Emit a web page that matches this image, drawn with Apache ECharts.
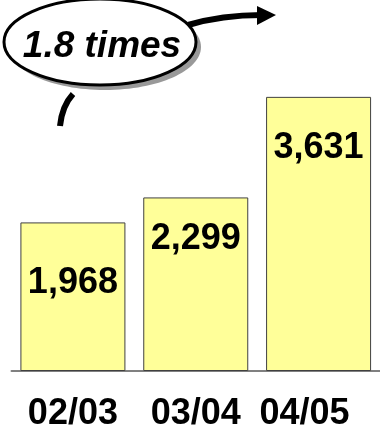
<!DOCTYPE html>
<html>
<head>
<meta charset="utf-8">
<script src="https://cdn.jsdelivr.net/npm/echarts@6/dist/echarts.min.js"></script>
<style>html,body{margin:0;padding:0;background:#fff;}#c{width:380px;height:432px;}</style>
</head>
<body>
<div id="c"></div>
<script>
var categories = ['02/03', '03/04', '04/05'];
var values = [1968, 2299, 3631];
var valueLabelOffsets = [60.5, 42, 51];
var categoryShift = [0, 0, 28];
var calloutText = '1.8 times';

var chart = echarts.init(document.getElementById('c'), null, {renderer: 'canvas'});
var FONT = '"Liberation Sans", Arial, sans-serif';

var barData = values.map(function (v, i) {
  return {
    value: v,
    label: {
      position: ['50%', valueLabelOffsets[i]]
    }
  };
});

var rich = {};
categories.forEach(function (c, i) {
  rich['c' + i] = {
    fontFamily: FONT, fontSize: 36, fontWeight: 'bold', color: '#000',
    padding: [0, categoryShift[i], 0, 0]
  };
});

chart.setOption({
  animation: false,
  grid: {left: 11.5, width: 377, top: 69, bottom: 57, containLabel: false},
  xAxis: {
    type: 'category',
    data: categories,
    axisLine: {lineStyle: {color: '#808080', width: 2}},
    axisTick: {show: false},
    axisLabel: {
      margin: 25,
      interval: 0,
      formatter: function (val, idx) { return '{c' + idx + '|' + val + '}'; },
      rich: rich
    }
  },
  yAxis: {
    type: 'value', min: 0, max: 4000, show: false,
    splitLine: {show: false}
  },
  series: [{
    type: 'bar',
    data: barData,
    barWidth: 105,
    itemStyle: {color: '#FFFF99', borderColor: '#404040', borderWidth: 1},
    label: {
      show: true,
      align: 'center',
      verticalAlign: 'middle',
      fontFamily: FONT, fontSize: 36, fontWeight: 'bold', color: '#000',
      formatter: function (p) { return p.value.toLocaleString('en-US'); }
    }
  }],
  graphic: [
    {type: 'bezierCurve', z: 1, shape: {x1: 188, y1: 25, cpx1: 222, cpy1: 15, x2: 262, y2: 15},
     style: {fill: 'none', stroke: '#000', lineWidth: 6}},
    {type: 'polygon', z: 1, shape: {points: [[257, 6], [276, 15], [257, 25]]},
     style: {fill: '#000'}},
    {type: 'bezierCurve', z: 1, shape: {x1: 73, y1: 94, cpx1: 62, cpy1: 106, x2: 60, y2: 126},
     style: {fill: 'none', stroke: '#000', lineWidth: 6}},
    {type: 'ellipse', z: 2, shape: {cx: 105, cy: 47, rx: 96, ry: 43},
     style: {fill: '#999999'}},
    {type: 'ellipse', z: 3, shape: {cx: 100, cy: 42, rx: 96, ry: 43},
     style: {fill: '#ffffff', stroke: '#000', lineWidth: 3}},
    {type: 'text', z: 4, x: 102, y: 47,
     style: {text: calloutText, fontFamily: FONT, fontSize: 37, fontWeight: 'bold',
             fontStyle: 'italic', fill: '#000', align: 'center', verticalAlign: 'middle'}}
  ]
});
</script>
</body>
</html>
